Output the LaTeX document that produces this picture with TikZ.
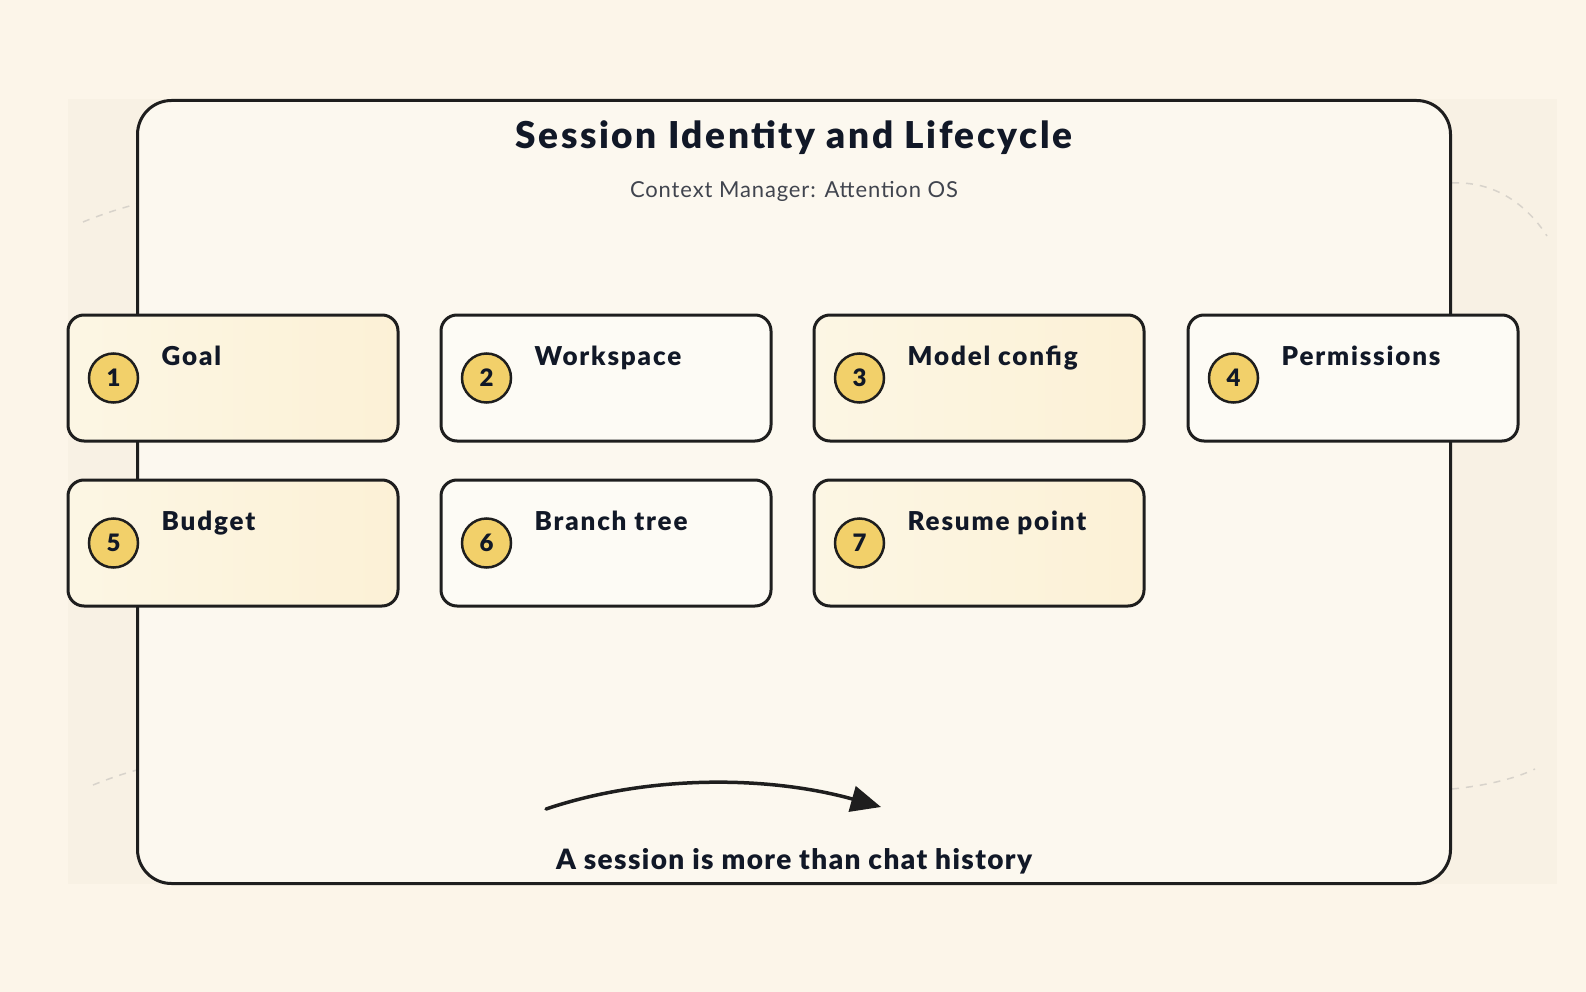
\documentclass[tikz,border=0pt]{standalone}
\usepackage{fontspec}
\setmainfont{Lato}
\IfFontExistsTF{Lato Black}
  {\newfontfamily\heavyfont[LetterSpace=7]{Lato Black}
   \newfontfamily\notefont[LetterSpace=5]{Lato Black}}
  {\newfontfamily\heavyfont[LetterSpace=10]{Lato Bold}
   \newfontfamily\notefont[LetterSpace=8]{Lato Bold}}
\newfontfamily\lightfont[LetterSpace=4]{Lato}
\usepackage{tikz}
\usetikzlibrary{arrows.meta,positioning}
\definecolor{pagebg}{HTML}{FCF5E9}
\definecolor{panelbg}{HTML}{F8F1E4}
\definecolor{framebg}{HTML}{FCF8EF}
\definecolor{inkline}{HTML}{1E1E1E}
\definecolor{inktext}{HTML}{111827}
\definecolor{subtext}{HTML}{40444E}
\definecolor{cardwarmA}{HTML}{FCF6E4}
\definecolor{cardwarmB}{HTML}{FCF1D6}
\definecolor{cardpale}{HTML}{FDFBF5}
\definecolor{badgefill}{HTML}{F2D06A}
\definecolor{dashgray}{HTML}{D8D3CB}

\begin{document}
\begin{tikzpicture}[x=1pt,y=-1pt,
  card/.style={draw=inkline,line width=3pt,rounded corners=16pt,minimum width=330pt,minimum height=126pt,inner sep=0pt},
  warmcard/.style={card,left color=cardwarmA,right color=cardwarmB},
  palecard/.style={card,fill=cardpale},
  badge/.style={circle,draw=inkline,line width=2.5pt,fill=badgefill,minimum size=49pt,inner sep=0pt,text=inktext,font=\fontsize{24}{24}\selectfont\heavyfont},
  cardtitle/.style={anchor=base west,text=inktext,font=\fontsize{26}{26}\selectfont\heavyfont,inner sep=0pt},
  faint/.style={dashgray,line width=1.5pt,dash pattern=on 7pt off 7pt}]
\useasboundingbox (0,0) rectangle (1586,992);
\fill[pagebg] (0,0) rectangle (1586,992);
\fill[panelbg] (68,99) rectangle (1557,884);
% faint dashed arcs behind the frame
\draw[faint] (83,222) .. controls (100,215) and (118,209) .. (137,204);
\draw[faint] (1452,183) .. controls (1495,181) and (1527,205) .. (1547,236);
\draw[faint] (93,785) .. controls (108,779) and (122,774) .. (137,770);
\draw[faint] (1452,789) .. controls (1482,786) and (1512,780) .. (1535,769);
% main frame
\node[draw=inkline,fill=framebg,line width=3pt,rounded corners=34pt,minimum width=1313pt,minimum height=783pt,inner sep=0pt] (frame) at (794,492) {};
\node[text=inktext,font=\fontsize{37}{37}\selectfont\heavyfont] (title) at (794,138) {Session Identity and Lifecycle};
\node[text=subtext,font=\fontsize{22}{22}\selectfont\lightfont] (subtitle) at (794,191) {Context Manager: Attention OS};
% first row
\node[warmcard] (goal) at (233,378) {};
\node[badge] (b1) at ([xshift=47pt]goal.west) {1};
\node[cardtitle] (t1) at ([xshift=95pt,yshift=-52pt]goal.north west) {Goal};
\node[palecard] (workspace) at (606,378) {};
\node[badge] (b2) at ([xshift=47pt]workspace.west) {2};
\node[cardtitle] (t2) at ([xshift=95pt,yshift=-52pt]workspace.north west) {Workspace};
\node[warmcard] (model) at (979,378) {};
\node[badge] (b3) at ([xshift=47pt]model.west) {3};
\node[cardtitle] (t3) at ([xshift=95pt,yshift=-52pt]model.north west) {Model config};
\node[palecard] (perms) at (1353,378) {};
\node[badge] (b4) at ([xshift=47pt]perms.west) {4};
\node[cardtitle] (t4) at ([xshift=95pt,yshift=-52pt]perms.north west) {Permissions};
% second row
\node[warmcard] (budget) at (233,543) {};
\node[badge] (b5) at ([xshift=47pt]budget.west) {5};
\node[cardtitle] (t5) at ([xshift=95pt,yshift=-52pt]budget.north west) {Budget};
\node[palecard] (branch) at (606,543) {};
\node[badge] (b6) at ([xshift=47pt]branch.west) {6};
\node[cardtitle] (t6) at ([xshift=95pt,yshift=-52pt]branch.north west) {Branch tree};
\node[warmcard] (resume) at (979,543) {};
\node[badge] (b7) at ([xshift=47pt]resume.west) {7};
\node[cardtitle] (t7) at ([xshift=95pt,yshift=-52pt]resume.north west) {Resume point};
% bottom note
\coordinate (arrS) at (546,809);
\coordinate (arrE) at (881,807);
\draw[inkline,line width=3.5pt,line cap=round,-{Triangle[length=30pt,width=26pt]}] (arrS) .. controls (650,774) and (770,776) .. (arrE);
\node[text=inktext,font=\fontsize{28}{28}\selectfont\notefont] (note) at (794,861) {A session is more than chat history};
\end{tikzpicture}
\end{document}
